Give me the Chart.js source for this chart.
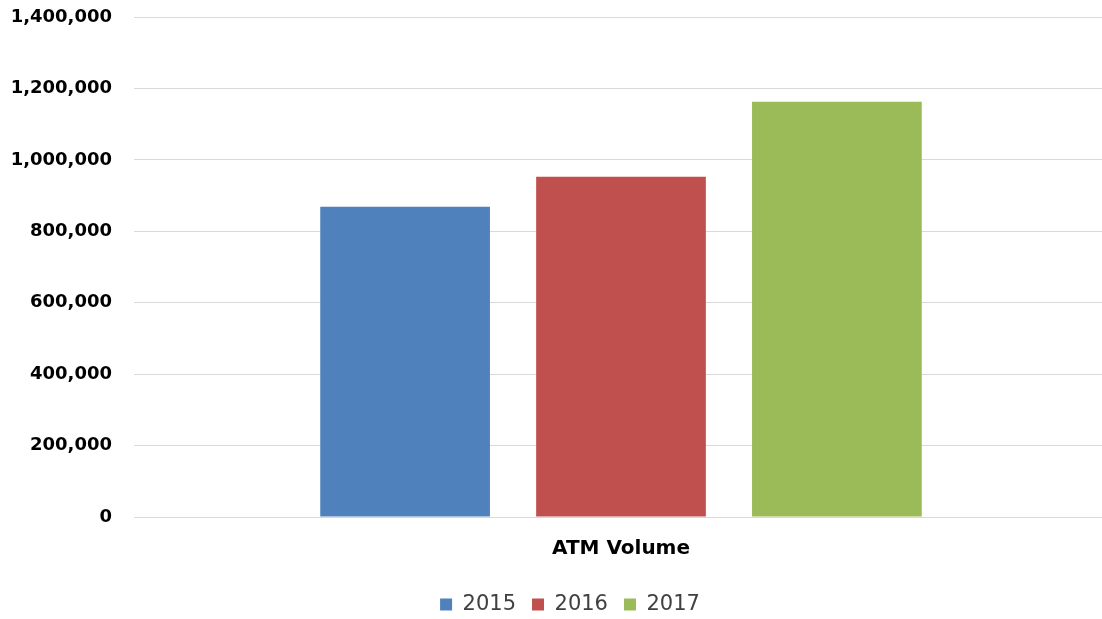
<!DOCTYPE html>
<html lang="en">
<head>
    <meta charset="UTF-8">
    <title>ATM Volume</title>
    <style>
        body { margin: 0; background: #fff; }
        #wrap { width: 1102px; height: 619px; }
    </style>
    <script src="https://cdn.jsdelivr.net/npm/chart.js"></script>
</head>
<body>
    <div id="wrap"><canvas id="atmChart" width="1102" height="619"></canvas></div>

    <script>
        const categories = ['ATM Volume'];
        const years = ['2015', '2016', '2017'];
        const volumes = [869000, 953000, 1163000];
        const colors = ['#4F81BD', '#C0504D', '#9BBB59'];

        const datasets = years.map((year, i) => ({
            label: year,
            data: [volumes[i]],
            backgroundColor: colors[i],
            categoryPercentage: 0.665,
            barPercentage: 0.786
        }));

        // the original plot runs a little past the right edge, and its legend sits right of centre
        const nudge = {
            id: 'nudge',
            afterLayout(chart) {
                const x = chart.scales.x;
                x.right += 6;
                x.width = x.right - x.left;
                x.configure();
                chart.legend.left += 38;
            }
        };

        new Chart(document.getElementById('atmChart'), {
            type: 'bar',
            data: { labels: categories, datasets: datasets },
            plugins: [nudge],
            options: {
                responsive: false,
                animation: false,
                layout: { padding: { top: 0, left: 0, right: 0, bottom: -6 } },
                plugins: {
                    tooltip: { enabled: false },
                    legend: {
                        position: 'bottom',
                        labels: {
                            boxWidth: 12,
                            boxHeight: 12,
                            padding: 16,
                            color: '#404040',
                            font: { family: 'DejaVu Sans', size: 21 }
                        }
                    }
                },
                scales: {
                    x: {
                        grid: { display: false },
                        border: { display: false },
                        afterFit: scale => { scale.height += 5; },
                        ticks: {
                            padding: 12,
                            color: '#000',
                            font: { family: 'DejaVu Sans', size: 20, weight: 'bold' }
                        }
                    },
                    y: {
                        min: 0,
                        max: 1400000,
                        border: { display: false },
                        grid: { color: '#d9d9d9', drawTicks: false },
                        afterFit: scale => {
                            scale.width = 134;
                            scale.paddingTop = 17;
                        },
                        ticks: {
                            stepSize: 200000,
                            padding: 22,
                            color: '#000',
                            font: { family: 'DejaVu Sans', size: 18, weight: 'bold' },
                            callback: v => v.toLocaleString('en-US')
                        }
                    }
                }
            }
        });
    </script>
</body>
</html>
